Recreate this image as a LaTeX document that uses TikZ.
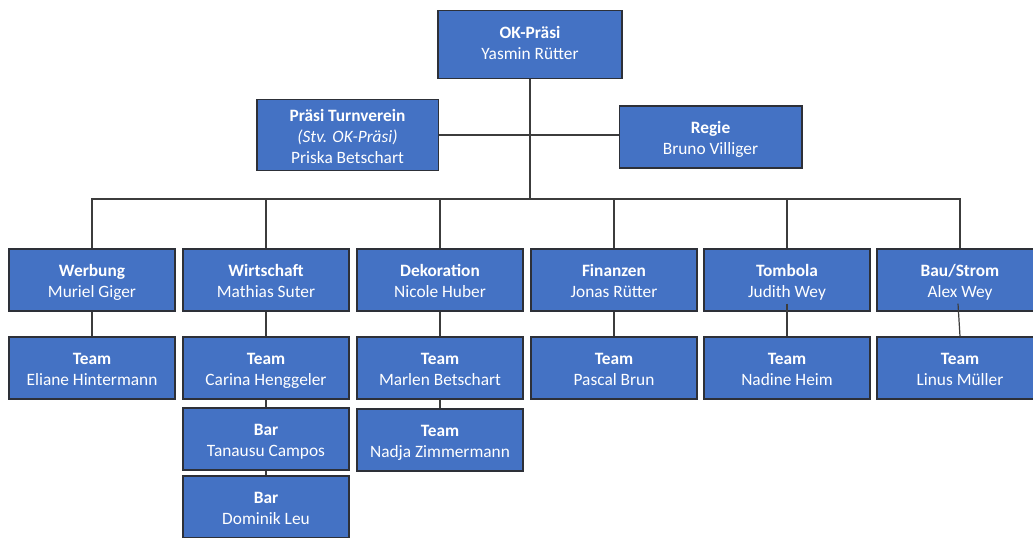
\documentclass[tikz,border=0pt]{standalone}
\usepackage{fontspec}
\setmainfont{Carlito}
\usepackage{tikz}
\definecolor{okblue}{RGB}{68,114,196}
\definecolor{okedge}{RGB}{45,48,56}
\definecolor{okline}{RGB}{60,60,60}
\tikzset{
  okbox/.style={draw=okedge, line width=1pt, fill=okblue, text=white,
    align=center, minimum width=124.5pt, minimum height=46.5pt, inner sep=1pt,
    font=\fontsize{13}{15.75}\selectfont, text height=29.8pt, text depth=4pt},
  okconn/.style={draw=okline, line width=0.9pt}
}
\begin{document}
\begin{tikzpicture}[x=0.75pt,y=-0.75pt]
    \useasboundingbox (0,0) rectangle (1033,538);
    \clip (0,0) rectangle (1033,538);
    \fill[white] (0,0) rectangle (1033,538);
    % Leitung
    \node[okbox, minimum width=138pt, minimum height=51pt, text height=26.8pt] (praesi) at (530,44.5)
        {\textbf{OK-Präsi}\\Yasmin Rütter};
    \node[okbox, minimum width=136pt, text height=47pt] (turnverein) at (347.5,135)
        {\textbf{Präsi Turnverein}\\\textit{(Stv. OK-Präsi)}\\Priska Betschart};
    \node[okbox, minimum width=137pt] (regie) at (710.5,137)
        {\textbf{Regie}\\Bruno Villiger};
    \coordinate (bus) at (530,199);
    % Ressorts und Teams
    \foreach \x/\key/\ressort/\chef/\team in {
        92/werbung/Werbung/Muriel Giger/Eliane Hintermann,
        266/wirtschaft/Wirtschaft/Mathias Suter/Carina Henggeler,
        440/deko/Dekoration/Nicole Huber/Marlen Betschart,
        614/finanzen/Finanzen/Jonas Rütter/Pascal Brun,
        787/tombola/Tombola/Judith Wey/Nadine Heim,
        960/bau/Bau\slash Strom/Alex Wey/Linus Müller}{
        \node[okbox] (\key) at (\x,280) {\textbf{\ressort}\\\chef};
        \node[okbox] (team\key) at (\x,368) {\textbf{Team}\\\team};
    }
    \node[okbox] (bar1) at (266,439) {\textbf{Bar}\\Tanausu Campos};
    \node[okbox] (bar2) at (266,507) {\textbf{Bar}\\Dominik Leu};
    \node[okbox] (teamdeko2) at (440,440) {\textbf{Team}\\Nadja Zimmermann};
    % Verbindungen
    \draw[okconn] (praesi.south) -- (bus);
    \draw[okconn] (turnverein.east) -- (turnverein.east -| regie.west);
    \draw[okconn] (werbung.north) |- (bus -| bau.north) -- (bau.north);
    \foreach \key in {wirtschaft,deko,finanzen,tombola}
        \draw[okconn] (\key.north) -- (\key.north |- bus);
    \foreach \key in {werbung,wirtschaft,deko,finanzen}
        \draw[okconn] (\key.south) -- (team\key.north);
    \draw[okconn] ([yshift=6pt]tombola.south) -- (teamtombola.north);
    \draw[okconn] ([xshift=-1.5pt,yshift=6pt]bau.south) -- (teambau.north);
    \draw[okconn] (teamwirtschaft.south) -- (bar1.north);
    \draw[okconn] (bar1.south) -- (bar2.north);
    \draw[okconn] (teamdeko.south) -- (teamdeko2.north);
\end{tikzpicture}
\end{document}
